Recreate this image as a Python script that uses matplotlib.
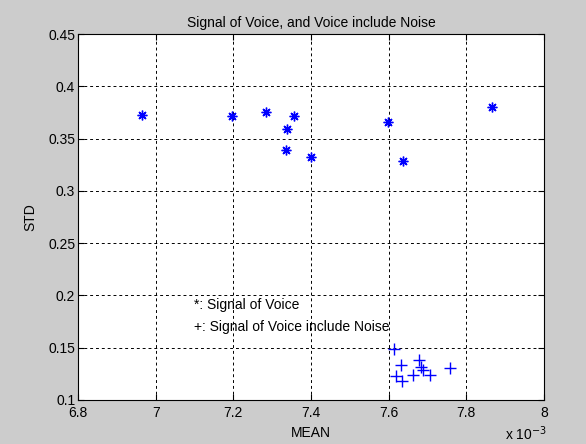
import numpy as np
import matplotlib.pyplot as plt

plt.rcParams['font.family'] = ['Liberation Sans', 'DejaVu Sans']

# voice only (mean x 1e-3, std)
voice_mean = [6.965, 7.196, 7.284, 7.356, 7.337, 7.335, 7.399, 7.599, 7.637, 7.865]
voice_std = [0.373, 0.372, 0.375, 0.3715, 0.359, 0.339, 0.3325, 0.366, 0.329, 0.3805]

# voice with noise
noise_mean = [7.614, 7.633, 7.677, 7.684, 7.689, 7.663, 7.618, 7.635, 7.707, 7.758]
noise_std = [0.149, 0.133, 0.138, 0.1312, 0.129, 0.1243, 0.1228, 0.1183, 0.1243, 0.131]

xticks = [6.8, 7, 7.2, 7.4, 7.6, 7.8, 8]
yticks = [0.1, 0.15, 0.2, 0.25, 0.3, 0.35, 0.4, 0.45]

fig = plt.figure(figsize=(5.86, 4.44), dpi=100, facecolor='#cccccc')
ax = fig.add_axes([0.1331, 0.0991, 0.7952, 0.8243])
ax.set_facecolor('white')

ax.plot(voice_mean, voice_std, linestyle='none', marker=(8, 2, 0),
        color='#0000ff', markersize=7, markeredgewidth=1)
ax.plot(noise_mean, noise_std, linestyle='none', marker='+',
        color='#0000ff', markersize=9, markeredgewidth=1)

ax.set_xlim(6.8, 8)
ax.set_ylim(0.1, 0.45)
ax.set_xticks(xticks)
ax.set_xticklabels(['6.8', '7', '7.2', '7.4', '7.6', '7.8', '8'])
ax.set_yticks(yticks)
ax.set_yticklabels(['0.1', '0.15', '0.2', '0.25', '0.3', '0.35', '0.4', '0.45'])
ax.tick_params(direction='in', length=4, top=True, right=True, labelsize=10,
               colors='black')
ax.tick_params(axis='x', pad=4)
ax.tick_params(axis='y', pad=2)
ax.grid(True, color='black', linestyle=(0, (3, 3)), linewidth=0.7)
for s in ax.spines.values():
    s.set_linewidth(0.8)

ax.set_title('Signal of Voice, and Voice include Noise', fontsize=10, pad=5)
ax.set_xlabel('MEAN', fontsize=10, labelpad=5)
ax.set_ylabel('STD', fontsize=10, labelpad=8)

ax.text(7.1, 0.1905, '*: Signal of Voice', fontsize=10, va='center')
ax.text(7.1, 0.1696, '+: Signal of Voice include Noise', fontsize=10, va='center')

fig.text(0.862, 0.008, r'x 10$^{-3}$', fontsize=10)

fig.savefig('out.png', dpi=100, facecolor=fig.get_facecolor())
